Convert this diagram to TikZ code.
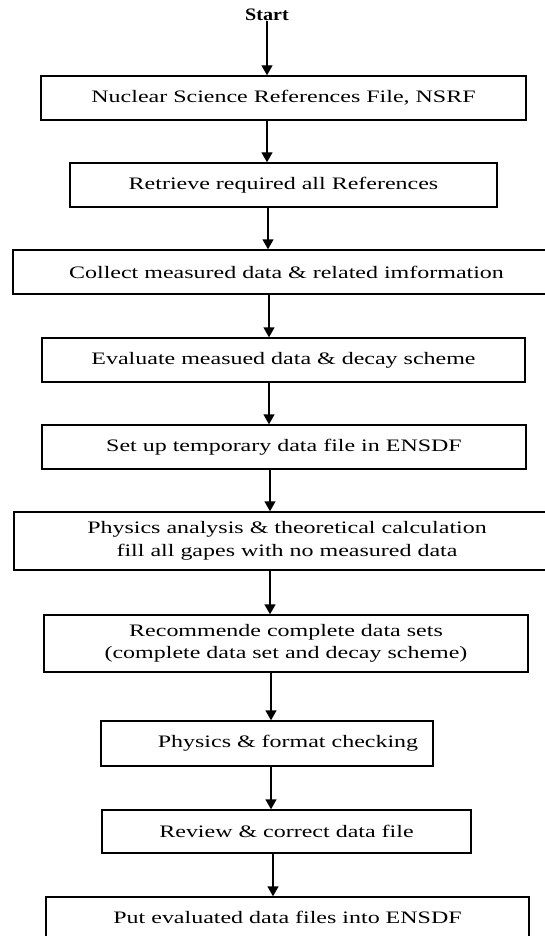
\documentclass[tikz,border=0pt]{standalone}
\usepackage{fontspec}
\setmainfont[FakeStretch=1.37]{Liberation Serif}
\newfontfamily\startfont[FakeStretch=1.15]{Liberation Serif}
\usetikzlibrary{arrows.meta}
\begin{document}
\begin{tikzpicture}[x=1pt,y=-1pt,
  box/.style={draw,line width=1.4pt,inner sep=0pt,align=center,font=\fontsize{17.5}{22.5}\selectfont},
  arr/.style={line width=1.4pt,-{Triangle[length=10pt,width=11pt]}}]
\useasboundingbox (0,0) rectangle (545,936);
\clip (0,0) rectangle (545,936);
% arrow columns
\coordinate (a0) at (267,0);
\coordinate (a1) at (267,0);
\coordinate (a2) at (268,0);
\coordinate (a3) at (269,0);
\coordinate (a4) at (269,0);
\coordinate (a5) at (270,0);
\coordinate (a6) at (270,0);
\coordinate (a7) at (271,0);
\coordinate (a8) at (271,0);
\coordinate (a9) at (273,0);
\node[inner sep=0pt,font=\startfont\bfseries\fontsize{17.5}{20}\selectfont] (start) at (267,15) {Start};
\node[box,minimum width=485pt,minimum height=44pt] (b1) at (283.5,98) {Nuclear Science References File, NSRF};
\node[box,minimum width=427pt,minimum height=44pt] (b2) at (283.5,185) {Retrieve required all References};
\node[box,minimum width=547pt,minimum height=44pt] (b3) at (286.5,272) {Collect measured data \& related imformation};
\node[box,minimum width=483pt,minimum height=44pt] (b4) at (283.5,360) {Evaluate measued data \& decay scheme};
\node[box,minimum width=484pt,minimum height=44pt] (b5) at (284,447) {Set up temporary data file in ENSDF};
\node[box,minimum width=546pt,minimum height=58pt] (b6) at (287,541) {Physics analysis \& theoretical calculation\\fill all gapes with no measured data};
\node[box,minimum width=484pt,minimum height=57pt] (b7) at (286,643.5) {Recommende complete data sets\\(complete data set and decay scheme)};
\node[box,minimum width=332pt,minimum height=45pt] (b8) at (267,743.5) {\hspace*{42pt}Physics \& format checking};
\node[box,minimum width=369pt,minimum height=43pt] (b9) at (286.5,831.5) {Review \& correct data file};
\node[box,minimum width=483pt,minimum height=41pt] (b10) at (287.5,917.5) {Put evaluated data files into ENSDF};
\draw[arr] (start.south) -- (b1.north -| a0);
\draw[arr] (b1.south -| a1) -- (b2.north -| a1);
\draw[arr] (b2.south -| a2) -- (b3.north -| a2);
\draw[arr] (b3.south -| a3) -- (b4.north -| a3);
\draw[arr] (b4.south -| a4) -- (b5.north -| a4);
\draw[arr] (b5.south -| a5) -- (b6.north -| a5);
\draw[arr] (b6.south -| a6) -- (b7.north -| a6);
\draw[arr] (b7.south -| a7) -- (b8.north -| a7);
\draw[arr] (b8.south -| a8) -- (b9.north -| a8);
\draw[arr] (b9.south -| a9) -- (b10.north -| a9);
\end{tikzpicture}
\end{document}
